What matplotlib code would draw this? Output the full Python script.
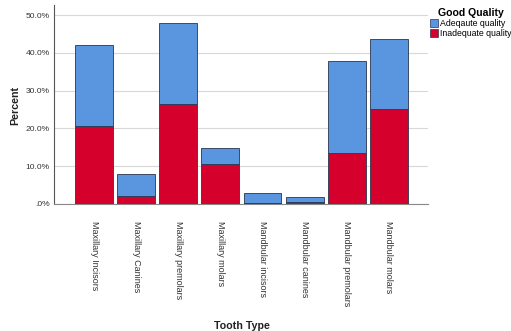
import matplotlib
matplotlib.use("Agg")
import matplotlib.pyplot as plt
from matplotlib.patches import Patch
from matplotlib.ticker import FuncFormatter

categories = ["Maxillary Incisors", "Maxillary Canines", "Maxillary premolars",
              "Maxillary molars", "Mandbular incisors", "Mandbular canines",
              "Mandbular premolars", "Mandbular molars"]
totals = [42.2, 7.9, 48.0, 14.9, 2.8, 1.9, 37.9, 43.7]
inadequate = [20.7, 2.1, 26.6, 10.6, 0.3, 0.5, 13.5, 25.2]
adequate = [t - i for t, i in zip(totals, inadequate)]
yticks = [0, 10, 20, 30, 40, 50]

plt.rcParams['font.family'] = ['Liberation Sans', 'DejaVu Sans']

blue = "#5A95E0"
red = "#D5002C"
edge = "#2A3550"

fig = plt.figure(figsize=(5.11, 3.31), dpi=100)
ax = fig.add_axes([0.1057, 0.3837, 0.7319, 0.6013])

x = list(range(len(categories)))
ax.bar(x, inadequate, width=0.9, color=red, edgecolor=edge, linewidth=0.6, zorder=3)
ax.bar(x, adequate, bottom=inadequate, width=0.9, color=blue, edgecolor=edge, linewidth=0.6, zorder=3)

ax.set_xlim(-0.95, 7.93)
ax.set_ylim(0, 52.7)
ax.set_yticks(yticks)
ax.yaxis.set_major_formatter(FuncFormatter(lambda v, p: ".0%" if v == 0 else f"{v:.1f}%"))
ax.set_xticks(x)
ax.set_xticklabels(categories, rotation=270, fontsize=6.5, color="#333333", va="top", ha="center")
ax.tick_params(axis='x', length=0, pad=12)
ax.tick_params(axis='y', length=0, pad=3, labelsize=6.1, labelcolor="#333333")
ax.grid(axis='y', color="#D8D8D8", linewidth=0.8, zorder=0)
ax.set_axisbelow(True)
for s in ["top", "right"]:
    ax.spines[s].set_visible(False)
ax.spines["left"].set_color("#555555")
ax.spines["bottom"].set_color("#888888")
ax.spines["left"].set_linewidth(0.8)
ax.spines["bottom"].set_linewidth(0.8)

fig.text(15 / 511, 1 - 105 / 331, "Percent", rotation=90, fontsize=7.7,
         fontweight="bold", ha="center", va="center", color="#222222")
fig.text(242 / 511, 1 - 326 / 331, "Tooth Type", fontsize=7.7,
         fontweight="bold", ha="center", va="center", color="#222222")

handles = [Patch(facecolor=blue, edgecolor=edge, linewidth=0.5, label="Adeqaute quality"),
           Patch(facecolor=red, edgecolor=edge, linewidth=0.5, label="Inadequate quality")]
leg = fig.legend(handles=handles, loc="upper left", bbox_to_anchor=(428 / 511, 1 - 6 / 331),
                 frameon=False, fontsize=6.3, title="Good Quality",
                 title_fontproperties={"weight": "bold", "size": 7.6},
                 handlelength=0.9, handleheight=1.0, handletextpad=0.25,
                 labelspacing=0.15, borderpad=0.2, borderaxespad=0)
leg._legend_box.align = "center"

fig.savefig("out.png", dpi=100)
